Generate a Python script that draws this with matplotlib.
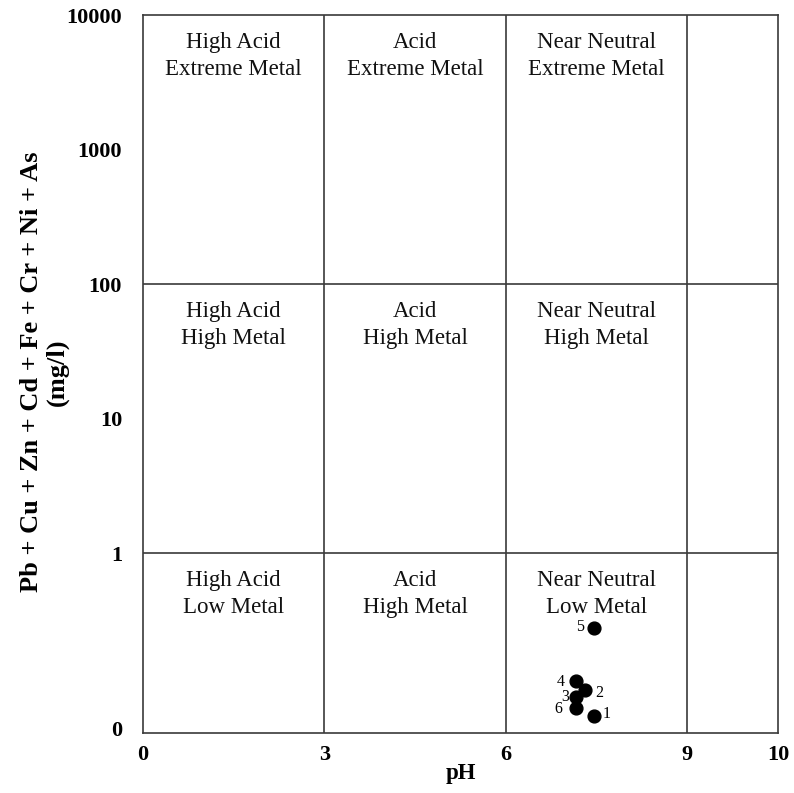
import numpy as np
import matplotlib
matplotlib.use('Agg')
import matplotlib.pyplot as plt

plt.rcParams['font.family'] = ['Liberation Serif', 'DejaVu Serif']

# sample points
sample_ids = ['1', '2', '3', '4', '5', '6']
ph = [7.46, 7.31, 7.16, 7.16, 7.46, 7.16]
metals = [0.061, 0.096, 0.085, 0.112, 0.277, 0.071]
label_offsets = [(9, 2), (10, -2), (-8, 0), (-11, -1), (-10, 1), (-13, -1)]  # points

# field labels: column centres and row tops
col_centres = [1.5, 4.5, 7.5]
row_tops = [10000, 100, 1]
field_labels = [
    ['High Acid\nExtreme Metal', 'Acid\nExtreme Metal', 'Near Neutral\nExtreme Metal'],
    ['High Acid\nHigh Metal', 'Acid\nHigh Metal', 'Near Neutral\nHigh Metal'],
    ['High Acid\nLow Metal', 'Acid\nHigh Metal', 'Near Neutral\nLow Metal'],
]

x_ticks = [0, 3, 6, 9, 10]
y_ticks = [0.05, 1, 10, 100, 1000, 10000]
y_ticklabels = ['0', '1', '10', '100', '1000', '10000']

# piecewise x scale: 9-10 drawn at half the width of a 3-unit band
xp = [0, 9, 10]
fp = [0, 9, 10.5]
def fwd(x):
    return np.interp(x, xp, fp)
def inv(x):
    return np.interp(x, fp, xp)

fig = plt.figure(figsize=(7.94, 7.93), dpi=100)
ax = fig.add_axes([0.180, 0.0757, 0.800, 0.905])
ax.set_xscale('function', functions=(fwd, inv))
ax.set_yscale('log')
ax.set_xlim(0, 10)
ax.set_ylim(0.046, 10000)

line_c = '#3a3a3a'
for x in [3, 6, 9]:
    ax.axvline(x, color=line_c, lw=1.2)
for y in [1, 100]:
    ax.axhline(y, color=line_c, lw=1.2)
for s in ax.spines.values():
    s.set_color(line_c)
    s.set_linewidth(1.2)

for r, top in enumerate(row_tops):
    for c, xc in enumerate(col_centres):
        ax.annotate(field_labels[r][c], xy=(xc, top), xytext=(0, -12),
                    textcoords='offset points', ha='center', va='top',
                    fontsize=16.5, linespacing=1.4, color='#111111')

ax.scatter(ph, metals, s=85, color='black', zorder=3)
for i in range(len(sample_ids)):
    ax.annotate(sample_ids[i], xy=(ph[i], metals[i]), xytext=label_offsets[i],
                textcoords='offset points', ha='center', va='center', fontsize=11.5)

ax.set_xticks(x_ticks)
ax.set_xticklabels([str(t) for t in x_ticks])
ax.set_yticks(y_ticks)
ax.set_yticklabels(y_ticklabels)
ax.minorticks_off()
ax.tick_params(axis='both', length=0, labelsize=16)
ax.tick_params(axis='x', pad=9)
ax.tick_params(axis='y', pad=15)
for lab in ax.get_xticklabels() + ax.get_yticklabels():
    lab.set_fontweight('bold')

ax.set_xlabel('pH', fontsize=16.5, fontweight='bold', labelpad=-2)
ax.set_ylabel('Pb + Cu + Zn + Cd + Fe + Cr + Ni + As\n(mg/l)', fontsize=19,
              fontweight='bold', linespacing=1.12, va='center')
ax.yaxis.set_label_coords(-0.155, 0.503)

fig.savefig('out.png', dpi=100)
